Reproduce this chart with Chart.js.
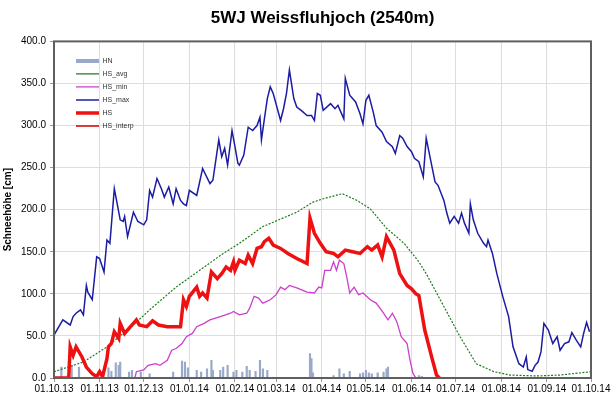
<!DOCTYPE html>
<html>
<head>
<meta charset="utf-8">
<script src="https://cdn.jsdelivr.net/npm/chart.js@4/dist/chart.umd.min.js"></script>
<style>
  html, body { margin: 0; padding: 0; background: #fff; }
  #wrap { width: 616px; height: 399px; }
</style>
</head>
<body>
<div id="wrap"><canvas id="snowChart"></canvas></div>
<script>
/* Weissfluhjoch snow depth, hydrological year 2013/14 (x = days since 01.10.13) */

const tickDays = [0, 31, 61, 92, 123, 151, 182, 212, 243, 273, 304, 335, 365];
const tickLabels = ['01.10.13', '01.11.13', '01.12.13', '01.01.14', '01.02.14', '01.03.14',
    '01.04.14', '01.05.14', '01.06.14', '01.07.14', '01.08.14', '01.09.14', '01.10.14'];

// HN - new snow
const hnDays = [5, 12, 17, 37, 39, 42, 44, 45, 51, 53, 59, 65, 81, 87, 89, 91, 97, 100, 104, 107, 108, 113, 115, 118,
    122, 124, 128, 131, 133, 137, 140, 142, 145, 174, 175, 176, 190, 194, 197, 201, 208, 210, 212, 214, 216, 220, 224, 226, 227, 248, 250];
const hnVals = [13, 15, 13, 12, 8, 18, 15, 19, 7, 9, 7, 5, 7, 20, 19, 12, 9, 7, 11, 21, 9, 9, 13, 15,
    7, 9, 7, 14, 9, 8, 21, 11, 9, 29, 23, 6, 3, 11, 5, 8, 5, 6, 9, 6, 5, 6, 7, 11, 13, 3, 2];

// HS_avg
const avgDays = [0, 20, 36, 54, 65, 83, 99, 115, 126, 142, 165, 176, 183, 196, 206, 215, 226, 238, 248, 253, 265, 276, 287, 299, 310, 328, 344, 365];
const avgVals = [7.5, 19, 37, 63, 81, 108, 128, 148, 160, 180, 197, 209, 213, 219, 211, 201, 178, 160, 138, 124, 85, 49, 17, 7.5, 3.5, 2.4, 3.5, 7.5];

// HS_min
const minDays = [0, 55, 56, 61, 64, 69, 72, 77, 80, 83, 87, 90, 94, 97, 102, 106, 113, 120, 122, 126, 131, 133, 136, 139, 142, 147,
    151, 154, 157, 160, 165, 172, 177, 180, 182, 184, 188, 190, 192, 194, 197, 199, 201, 204, 207, 210, 215, 219, 224, 227, 230,
    233, 236, 240, 242, 244, 246, 365];
const minVals = [0, 0, 7.5, 9.5, 15, 17, 15, 21, 33, 35, 41, 49, 53, 61, 65, 69, 73, 77, 79, 75, 77, 83, 97, 95, 89, 93,
    99, 108, 105, 110, 107, 102, 101, 108, 107, 128, 128, 138, 128, 140, 136, 120, 101, 108, 99, 101, 93, 89, 77, 69, 77,
    67, 49, 41, 21, 5.5, 0, 0];

// HS_max
const maxDays = [0, 6, 11, 13, 15, 18, 20, 22, 23, 26, 29, 31, 34, 36, 38, 41, 45, 47, 48, 50, 54, 57, 61, 63, 65, 67, 70, 73,
    75, 78, 81, 83, 86, 88, 90, 92, 97, 101, 106, 108, 112, 114, 116, 118, 121, 123, 125, 126, 129, 132, 135, 138, 140, 141,
    143, 145, 147, 149, 154, 156, 158, 160, 163, 165, 168, 172, 175, 177, 179, 181, 183, 188, 191, 193, 197, 198, 201, 205,
    208, 210, 212, 214, 217, 219, 223, 226, 230, 232, 235, 237, 240, 243, 245, 248, 251, 253, 256, 259, 261, 265, 267, 269,
    272, 275, 277, 279, 282, 283, 285, 288, 292, 294, 295, 298, 301, 305, 309, 312, 316, 319, 321, 322, 325, 327, 329, 331,
    333, 336, 339, 342, 344, 347, 350, 352, 355, 358, 360, 362, 364];
const maxVals = [51, 69, 63, 73, 77, 81, 75, 110, 102, 93, 144, 142, 126, 164, 160, 225, 188, 186, 192, 168, 197, 186, 182, 188,
    223, 215, 237, 225, 215, 227, 207, 225, 211, 207, 205, 223, 217, 249, 231, 235, 283, 263, 273, 253, 294, 275, 255, 253,
    265, 298, 294, 300, 310, 283, 308, 332, 346, 338, 306, 320, 338, 366, 332, 322, 318, 312, 312, 306, 338, 336, 318, 326,
    320, 324, 308, 356, 336, 328, 314, 302, 330, 336, 316, 300, 292, 281, 275, 267, 288, 285, 275, 269, 261, 257, 239, 285,
    259, 233, 229, 211, 196, 184, 192, 184, 196, 184, 172, 207, 188, 172, 160, 156, 164, 148, 124, 97, 73, 37, 17, 13, 25,
    10, 8, 15, 19, 31, 65, 57, 41, 49, 33, 41, 43, 54, 45, 37, 53, 66, 55];

// HS - measured snow depth
const hsDays = [0, 10, 11, 13, 15, 19, 22, 26, 29, 31, 33, 36, 37, 39, 41, 44, 45, 48, 52, 56, 58, 63, 67, 71, 77, 86, 88, 90,
    92, 97, 99, 101, 104, 107, 111, 114, 117, 120, 122, 123, 126, 130, 132, 135, 138, 141, 143, 146, 149, 154, 159, 165, 172,
    174, 177, 181, 185, 190, 193, 198, 203, 208, 213, 216, 220, 223, 226, 231, 235, 240, 243, 246, 248, 252, 257, 260, 262];
const hsVals = [0, 0, 37, 27, 37, 25, 13, 5, 1.5, 7.5, 1.5, 23, 37, 41, 55, 47, 65, 53, 61, 69, 63, 61, 68, 63, 61, 61, 93, 85,
    97, 108, 97, 101, 95, 126, 118, 124, 132, 128, 138, 128, 140, 136, 146, 136, 154, 156, 162, 166, 158, 154, 148, 142, 136,
    190, 172, 160, 150, 148, 144, 152, 150, 148, 156, 152, 158, 144, 168, 152, 124, 110, 106, 100, 98, 57, 23, 3.5, 0];

const hnColor = '#9aa9c9';
const avgColor = '#1f7a1f';
const minColor = '#cc3fcc';
const maxColor = '#1c1ca3';
const hsColor = '#ee1111';

function points(days, vals) {
    return days.map((d, i) => ({ x: d, y: vals[i] }));
}

// frame around the plot area, and move title/legend to where the original has them
const framePlugin = {
    id: 'frame',
    afterLayout(chart) {
        const a = chart.chartArea;
        chart.titleBlock.left = a.left;
        chart.titleBlock.right = a.right;
        chart.legend.left = a.left + 16;
        chart.legend.top = a.top + 10;
    },
    afterDatasetsDraw(chart) {
        const { ctx, chartArea: a } = chart;
        ctx.save();
        ctx.strokeStyle = '#5f5f5f';
        ctx.lineWidth = 2;
        ctx.strokeRect(a.left, a.top, a.right - a.left, a.bottom - a.top);
        ctx.restore();
    }
};

const lineBase = { pointRadius: 0, pointHoverRadius: 0, tension: 0, fill: false };

new Chart(document.getElementById('snowChart'), {
    type: 'line',
    data: {
        datasets: [
            { type: 'bar', label: 'HN', data: points(hnDays, hnVals), backgroundColor: hnColor,
              barThickness: 1.5, grouped: false, order: 6 },
            { ...lineBase, label: 'HS_avg', data: points(avgDays, avgVals), borderColor: avgColor,
              borderWidth: 1.2, borderDash: [2, 1.5], order: 5 },
            { ...lineBase, label: 'HS_min', data: points(minDays, minVals), borderColor: minColor,
              borderWidth: 1.3, order: 4 },
            { ...lineBase, label: 'HS_max', data: points(maxDays, maxVals), borderColor: maxColor,
              borderWidth: 1.5, order: 3 },
            { ...lineBase, label: 'HS', data: points(hsDays, hsVals), borderColor: hsColor,
              borderWidth: 3.5, order: 1 },
            { ...lineBase, label: 'HS_interp', data: [], borderColor: '#cc0000', borderWidth: 1.5, order: 2 }
        ]
    },
    options: {
        responsive: true,
        maintainAspectRatio: false,
        animation: false,
        layout: { padding: { left: 0, right: 25, top: 0, bottom: 0 } },
        plugins: {
            title: {
                display: true,
                text: '5WJ Weissfluhjoch (2540m)',
                color: '#000',
                font: { family: 'Liberation Sans', size: 17, weight: 'bold' },
                padding: { top: 8, bottom: 13 }
            },
            legend: {
                position: 'chartArea',
                align: 'start',
                labels: {
                    usePointStyle: true,
                    pointStyle: 'line',
                    pointStyleWidth: 23,
                    padding: 6,
                    color: '#333',
                    font: { family: 'Liberation Sans', size: 7 },
                    sort: (a, b) => a.datasetIndex - b.datasetIndex,
                    generateLabels: chart => Chart.defaults.plugins.legend.labels.generateLabels(chart).map(it => {
                        if (it.datasetIndex === 0) { it.lineWidth = 4; it.strokeStyle = hnColor; }
                        return it;
                    })
                }
            },
            tooltip: { enabled: false }
        },
        scales: {
            x: {
                type: 'linear',
                min: 0,
                max: 365,
                offset: false,
                afterBuildTicks: s => { s.ticks = tickDays.map(v => ({ value: v })); },
                afterFit: s => { s.height = 21; },
                border: { display: false },
                grid: { color: '#dedede', tickLength: 4, tickColor: '#999', offset: false },
                ticks: {
                    autoSkip: false,
                    maxRotation: 0,
                    padding: 1,
                    color: '#000',
                    font: { family: 'Liberation Sans', size: 10 },
                    callback: v => tickLabels[tickDays.indexOf(v)]
                }
            },
            y: {
                min: 0,
                max: 400,
                afterFit: s => { s.width = 54; },
                border: { display: false },
                grid: { color: '#dedede', tickLength: 4, tickColor: '#999' },
                ticks: {
                    stepSize: 50,
                    padding: 4,
                    color: '#000',
                    font: { family: 'Liberation Sans', size: 10 },
                    callback: v => v.toFixed(1)
                },
                title: {
                    display: true,
                    text: 'Schneehöhe [cm]',
                    color: '#000',
                    font: { family: 'Liberation Sans', size: 10, weight: 'bold' },
                    padding: { top: 2, bottom: 0 }
                }
            }
        }
    },
    plugins: [framePlugin]
});
</script>
</body>
</html>
